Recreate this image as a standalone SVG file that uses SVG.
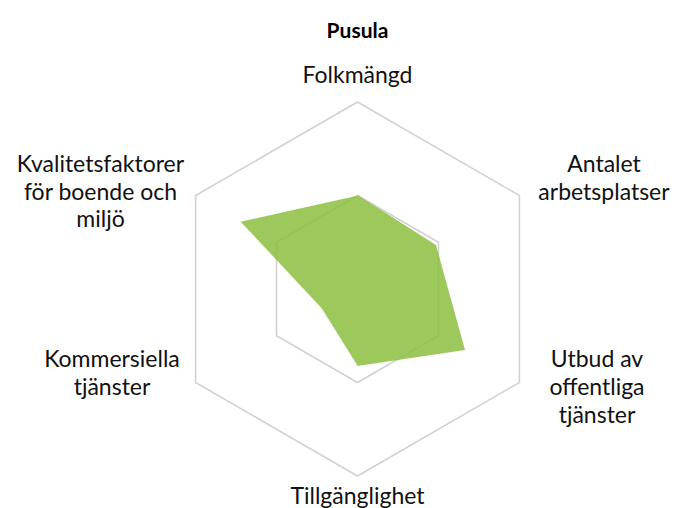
<svg xmlns="http://www.w3.org/2000/svg" width="675" height="508" viewBox="0 0 675 508">
<style>
.grid{fill:none;stroke:#d2d2d2;stroke-width:1.6;stroke-linejoin:miter}
.lbl{font-family:Lato,"Liberation Sans",sans-serif;font-size:23px;fill:#111;text-anchor:middle}
.title{font-family:Lato,"Liberation Sans",sans-serif;font-size:21px;font-weight:bold;fill:#000;text-anchor:middle}
</style>
<rect width="675" height="508" fill="#fff"/>
<g id="title"><text class="title" x="357.5" y="38">Pusula</text></g>
<g id="grid">
<polygon class="grid" points="357.5,102 519.4,195.5 519.4,382.5 357.5,476 195.6,382.5 195.6,195.5"/>
<polygon class="grid" points="357.5,195.5 438.5,242.25 438.5,335.75 357.5,382.5 276.5,335.75 276.5,242.25"/>
</g>
<g id="series">
<polygon points="358.3,195.5 436,245 465,350 357.7,366 321.7,308.3 240.7,221.7" fill="#8cbf3f" fill-opacity="0.85"/>
</g>
<g id="labels">
<g id="axis-folkmangd"><text class="lbl" x="357.5" y="83">Folkmängd</text></g>
<g id="axis-antalet"><text class="lbl" x="604" y="172">Antalet</text><text class="lbl" x="604" y="200">arbetsplatser</text></g>
<g id="axis-utbud"><text class="lbl" x="597" y="367">Utbud av</text><text class="lbl" x="597" y="395">offentliga</text><text class="lbl" x="597" y="423">tjänster</text></g>
<g id="axis-tillganglighet"><text class="lbl" x="357.5" y="504">Tillgänglighet</text></g>
<g id="axis-kommersiella"><text class="lbl" x="112" y="367">Kommersiella</text><text class="lbl" x="112" y="395">tjänster</text></g>
<g id="axis-kvalitet"><text class="lbl" x="100.5" y="172">Kvalitetsfaktorer</text><text class="lbl" x="100.5" y="200">för boende och</text><text class="lbl" x="100.5" y="227">miljö</text></g>
</g>
</svg>
